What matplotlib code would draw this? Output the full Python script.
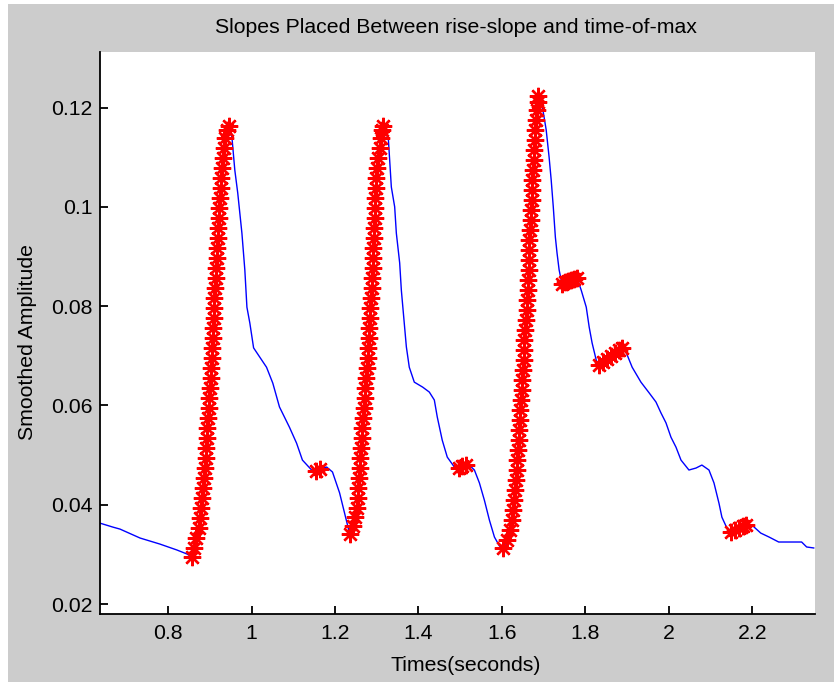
import numpy as np
import matplotlib.pyplot as plt
from matplotlib.patches import Rectangle
from matplotlib.ticker import FormatStrFormatter

plt.rcParams['font.family'] = ['Liberation Sans', 'DejaVu Sans']

# smoothed amplitude (time in s)
lead_t = [0.637, 0.668, 0.685, 0.733, 0.780, 0.821, 0.845]
lead_a = [0.0363, 0.0355, 0.0351, 0.0333, 0.0321, 0.0309, 0.0301]

rise1_t = [0.857, 0.863, 0.868, 0.874, 0.877, 0.880, 0.882, 0.884, 0.886, 0.888,
           0.890, 0.892, 0.893, 0.894, 0.896, 0.897, 0.899, 0.900, 0.902, 0.903,
           0.905, 0.906, 0.907, 0.908, 0.909, 0.910, 0.911, 0.912, 0.914, 0.915,
           0.917, 0.918, 0.919, 0.920, 0.921, 0.923, 0.925, 0.927, 0.928, 0.929,
           0.931, 0.933, 0.937, 0.941, 0.945]
rise1_a = [0.0295, 0.0313, 0.0333, 0.0353, 0.0373, 0.0393, 0.0413, 0.0434, 0.0454, 0.0474,
           0.0494, 0.0514, 0.0534, 0.0554, 0.0575, 0.0595, 0.0615, 0.0635, 0.0655, 0.0675,
           0.0695, 0.0716, 0.0736, 0.0756, 0.0776, 0.0796, 0.0816, 0.0836, 0.0857, 0.0877,
           0.0897, 0.0917, 0.0937, 0.0957, 0.0977, 0.0998, 0.1018, 0.1038, 0.1058, 0.1078,
           0.1098, 0.1118, 0.1139, 0.1155, 0.1163]

fall1_t = [0.953, 0.960, 0.967, 0.977, 0.984, 0.989, 0.996, 1.005, 1.020, 1.036,
           1.051, 1.067, 1.091, 1.108, 1.122, 1.144]
fall1_a = [0.1141, 0.1074, 0.1028, 0.0947, 0.0873, 0.0798, 0.0766, 0.0716, 0.0697, 0.0677,
           0.0645, 0.0597, 0.0556, 0.0524, 0.0490, 0.0470]

bump1_t = [1.154, 1.163]
bump1_a = [0.0468, 0.0472]

fall1b_t = [1.180, 1.194, 1.211, 1.223, 1.233]
fall1b_a = [0.0476, 0.0466, 0.0424, 0.0383, 0.0349]

rise2_t = [1.237, 1.243, 1.248, 1.252, 1.254, 1.256, 1.258, 1.260, 1.261, 1.262,
           1.264, 1.265, 1.267, 1.269, 1.271, 1.273, 1.275, 1.276, 1.278, 1.279,
           1.281, 1.282, 1.283, 1.285, 1.286, 1.288, 1.289, 1.290, 1.291, 1.292,
           1.293, 1.294, 1.295, 1.296, 1.297, 1.298, 1.299, 1.301, 1.304, 1.307,
           1.310, 1.313, 1.316]
rise2_a = [0.0341, 0.0357, 0.0375, 0.0393, 0.0413, 0.0434, 0.0454, 0.0474, 0.0494, 0.0514,
           0.0534, 0.0554, 0.0575, 0.0595, 0.0615, 0.0635, 0.0655, 0.0675, 0.0695, 0.0716,
           0.0736, 0.0756, 0.0776, 0.0796, 0.0816, 0.0836, 0.0857, 0.0877, 0.0897, 0.0917,
           0.0937, 0.0957, 0.0977, 0.0998, 0.1018, 0.1038, 0.1058, 0.1078, 0.1098, 0.1118,
           0.1139, 0.1155, 0.1163]

fall2_t = [1.328, 1.335, 1.343, 1.347, 1.355, 1.359, 1.366, 1.371, 1.378, 1.390,
           1.410, 1.426, 1.438, 1.445, 1.457, 1.469, 1.486]
fall2_a = [0.1135, 0.1040, 0.1000, 0.0947, 0.0887, 0.0832, 0.0766, 0.0718, 0.0677, 0.0647,
           0.0637, 0.0627, 0.0611, 0.0577, 0.0530, 0.0496, 0.0476]

bump2_t = [1.496, 1.505, 1.515]
bump2_a = [0.0474, 0.0478, 0.0480]

fall2b_t = [1.522, 1.534, 1.546, 1.558, 1.570, 1.582, 1.594]
fall2b_a = [0.0480, 0.0470, 0.0444, 0.0409, 0.0369, 0.0335, 0.0317]

rise3_t = [1.603, 1.613, 1.620, 1.624, 1.626, 1.629, 1.632, 1.634, 1.636, 1.637,
           1.639, 1.640, 1.642, 1.643, 1.644, 1.646, 1.647, 1.649, 1.650, 1.652,
           1.653, 1.654, 1.656, 1.657, 1.659, 1.660, 1.662, 1.663, 1.664, 1.665,
           1.665, 1.666, 1.668, 1.669, 1.670, 1.671, 1.672, 1.673, 1.674, 1.676,
           1.677, 1.679, 1.680, 1.682, 1.683, 1.686, 1.687]
rise3_a = [0.0313, 0.0329, 0.0349, 0.0369, 0.0389, 0.0409, 0.0430, 0.0450, 0.0470, 0.0490,
           0.0510, 0.0530, 0.0550, 0.0571, 0.0591, 0.0611, 0.0631, 0.0651, 0.0671, 0.0691,
           0.0712, 0.0732, 0.0752, 0.0772, 0.0792, 0.0812, 0.0832, 0.0853, 0.0873, 0.0893,
           0.0913, 0.0933, 0.0953, 0.0973, 0.0994, 0.1014, 0.1034, 0.1054, 0.1074, 0.1094,
           0.1114, 0.1135, 0.1155, 0.1175, 0.1195, 0.1211, 0.1223]

fall3_t = [1.697, 1.706, 1.713, 1.718, 1.723, 1.728, 1.732, 1.737]
fall3_a = [0.1201, 0.1155, 0.1100, 0.1054, 0.1000, 0.0939, 0.0907, 0.0873]

bump3_t = [1.744, 1.752, 1.759, 1.766, 1.773, 1.780]
bump3_a = [0.0844, 0.0849, 0.0851, 0.0853, 0.0855, 0.0857]

fall3b_t = [1.790, 1.802, 1.809, 1.816, 1.826]
fall3b_a = [0.0832, 0.0798, 0.0758, 0.0726, 0.0691]

bump4_t = [1.833, 1.843, 1.852, 1.862, 1.871, 1.881, 1.888]
bump4_a = [0.0681, 0.0687, 0.0693, 0.0699, 0.0706, 0.0712, 0.0716]

fall3c_t = [1.898, 1.912, 1.933, 1.953, 1.969, 1.981, 1.993, 2.005, 2.017, 2.029,
            2.048, 2.065, 2.079, 2.096, 2.108, 2.120, 2.127, 2.139]
fall3c_a = [0.0706, 0.0677, 0.0647, 0.0625, 0.0607, 0.0585, 0.0565, 0.0536, 0.0516, 0.0490,
            0.0470, 0.0474, 0.0480, 0.0470, 0.0444, 0.0403, 0.0375, 0.0353]

bump5_t = [2.149, 2.158, 2.168, 2.177, 2.185]
bump5_a = [0.0345, 0.0349, 0.0353, 0.0357, 0.0359]

tail_t = [2.199, 2.220, 2.240, 2.263, 2.287, 2.318, 2.330, 2.347]
tail_a = [0.0359, 0.0343, 0.0335, 0.0325, 0.0325, 0.0325, 0.0315, 0.0313]

x_ticks = [0.8, 1.0, 1.2, 1.4, 1.6, 1.8, 2.0, 2.2]
y_ticks = [0.02, 0.04, 0.06, 0.08, 0.10, 0.12]

pieces = [(lead_t, lead_a), (rise1_t, rise1_a), (fall1_t, fall1_a), (bump1_t, bump1_a),
          (fall1b_t, fall1b_a), (rise2_t, rise2_a), (fall2_t, fall2_a), (bump2_t, bump2_a),
          (fall2b_t, fall2b_a), (rise3_t, rise3_a), (fall3_t, fall3_a), (bump3_t, bump3_a),
          (fall3b_t, fall3b_a), (bump4_t, bump4_a), (fall3c_t, fall3c_a), (bump5_t, bump5_a),
          (tail_t, tail_a)]
# the stretches marked with red stars
marked = [(rise1_t, rise1_a), (bump1_t, bump1_a), (rise2_t, rise2_a), (bump2_t, bump2_a),
          (rise3_t, rise3_a), (bump3_t, bump3_a), (bump4_t, bump4_a), (bump5_t, bump5_a)]

time = np.concatenate([p[0] for p in pieces])
amp = np.concatenate([p[1] for p in pieces])

fs = 15.3
fig = plt.figure(figsize=(8.34, 6.82), dpi=100, facecolor='white')
fig.patches.append(Rectangle((8 / 834, 0), 1, 1 - 4 / 682, transform=fig.transFigure,
                             facecolor='#cccccc', edgecolor='none', zorder=-1))
ax = fig.add_axes([0.1199, 0.0997, 0.8573, 0.8241])
ax.set_facecolor('white')

ax.plot(time, amp, color='#0000ff', linewidth=1.0)
for t, a in marked:
    ax.plot(t, a, linestyle='none', marker=(8, 2, 0), markersize=12.5,
            markeredgecolor='red', markeredgewidth=1.7)

ax.set_xlim(0.637, 2.350)
ax.set_ylim(0.018, 0.1312)
ax.set_xticks(x_ticks)
ax.set_yticks(y_ticks)
ax.xaxis.set_major_formatter(FormatStrFormatter('%g'))
ax.yaxis.set_major_formatter(FormatStrFormatter('%g'))
ax.tick_params(direction='in', length=5.8, width=1.3, labelsize=fs, color='black')
ax.tick_params(axis='x', pad=7.5)
ax.tick_params(axis='y', pad=5.5)
for side in ['top', 'right']:
    ax.spines[side].set_visible(False)
for side in ['left', 'bottom']:
    ax.spines[side].set_linewidth(1.3)

fig.text(456 / 834, 1 - 33.3 / 682, "Slopes Placed Between rise-slope and time-of-max",
         ha='center', va='baseline', fontsize=fs)
fig.text(466 / 834, 1 - 671 / 682, "Times(seconds)", ha='center', va='baseline', fontsize=fs)
fig.text(33 / 834, 1 - 342.5 / 682, "Smoothed Amplitude", rotation=90, rotation_mode='anchor',
         ha='center', va='baseline', fontsize=fs)

fig.savefig("out.png", dpi=100, facecolor=fig.get_facecolor())
